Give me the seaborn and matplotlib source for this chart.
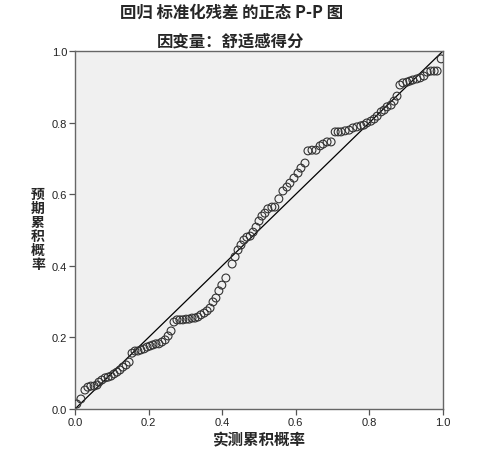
import pandas as pd
import numpy as np
import matplotlib
matplotlib.use("Agg")
import matplotlib.pyplot as plt
import seaborn as sns

# observed cumulative probability (x) vs expected cumulative probability (y)
observed = [0.005, 0.016, 0.027, 0.035, 0.043, 0.052, 0.060, 0.065, 0.073, 0.082,
            0.090, 0.098, 0.106, 0.114, 0.122, 0.130, 0.139, 0.147, 0.155, 0.163,
            0.171, 0.179, 0.188, 0.196, 0.204, 0.212, 0.220, 0.228, 0.236, 0.245,
            0.253, 0.261, 0.269, 0.277, 0.285, 0.293, 0.302, 0.310, 0.318, 0.326,
            0.334, 0.342, 0.351, 0.359, 0.367, 0.375, 0.383, 0.391, 0.399, 0.410,
            0.427, 0.435, 0.443, 0.451, 0.459, 0.467, 0.476, 0.484, 0.492, 0.500,
            0.508, 0.516, 0.524, 0.535, 0.543, 0.554, 0.565, 0.576, 0.584, 0.595,
            0.606, 0.614, 0.625, 0.633, 0.644, 0.655, 0.666, 0.674, 0.685, 0.696,
            0.707, 0.715, 0.723, 0.734, 0.745, 0.755, 0.766, 0.777, 0.785, 0.793,
            0.804, 0.813, 0.821, 0.832, 0.840, 0.848, 0.859, 0.867, 0.875, 0.883,
            0.891, 0.902, 0.910, 0.918, 0.929, 0.938, 0.948, 0.957, 0.967, 0.976,
            0.984, 0.995]
expected = [0.014, 0.028, 0.053, 0.061, 0.064, 0.064, 0.067, 0.075, 0.081, 0.087,
            0.089, 0.092, 0.098, 0.103, 0.109, 0.117, 0.123, 0.131, 0.156, 0.162,
            0.162, 0.165, 0.168, 0.173, 0.176, 0.179, 0.182, 0.182, 0.187, 0.193,
            0.204, 0.218, 0.243, 0.249, 0.249, 0.249, 0.251, 0.251, 0.254, 0.254,
            0.257, 0.263, 0.268, 0.274, 0.282, 0.299, 0.310, 0.330, 0.346, 0.366,
            0.405, 0.425, 0.444, 0.458, 0.472, 0.480, 0.483, 0.494, 0.508, 0.525,
            0.539, 0.547, 0.559, 0.564, 0.564, 0.587, 0.609, 0.620, 0.631, 0.645,
            0.659, 0.673, 0.687, 0.721, 0.723, 0.723, 0.735, 0.740, 0.746, 0.746,
            0.774, 0.774, 0.774, 0.777, 0.779, 0.785, 0.788, 0.791, 0.793, 0.799,
            0.804, 0.810, 0.818, 0.830, 0.835, 0.844, 0.849, 0.860, 0.874, 0.905,
            0.911, 0.913, 0.916, 0.919, 0.922, 0.925, 0.930, 0.941, 0.944, 0.944,
            0.944, 0.978]
diag = [0.0, 1.0]
ticks = [0.0, 0.2, 0.4, 0.6, 0.8, 1.0]

title = "回归 标准化残差 的正态 P-P 图"
subtitle = "因变量：舒适感得分"
xlab = "实测累积概率"
ylab = "预期累积概率"

df = pd.DataFrame({"observed": observed, "expected": expected})

sns.set_style("white")
cjk = ["Noto Sans CJK SC", "DejaVu Sans"]
plt.rcParams["font.family"] = cjk

fig = plt.figure(figsize=(4.96, 4.60), dpi=100)
ax = fig.add_axes([75 / 496, 50 / 460, 368 / 496, 358 / 460])
ax.set_facecolor("#f0f0f0")

ax.plot(diag, diag, color="black", lw=0.9, zorder=2)
sns.scatterplot(data=df, x="observed", y="expected", ax=ax, s=32,
                facecolor="none", edgecolor="#333333", linewidth=0.8, zorder=3)

ax.set_xlim(0, 1)
ax.set_ylim(0, 1)
ax.set_xticks(ticks)
ax.set_yticks(ticks)
ax.set_xticklabels([f"{t:.1f}" for t in ticks], fontfamily="Liberation Sans", fontsize=8)
ax.set_yticklabels([f"{t:.1f}" for t in ticks], fontfamily="Liberation Sans", fontsize=8)
ax.tick_params(axis="both", direction="out", length=4, width=0.9, color="#555555",
               labelcolor="#222222", pad=1.5, bottom=True, left=True, top=False, right=False)
for sp in ax.spines.values():
    sp.set_color("#666666")
    sp.set_linewidth(1.0)
ax.set_xlabel("")
ax.set_ylabel("")

fig.text(232 / 496, 1 - 13 / 460, title, ha="center", va="center",
         fontsize=11.8, fontweight="bold", family=cjk)
fig.text(231 / 496, 1 - 42 / 460, subtitle, ha="center", va="center",
         fontsize=11.8, fontweight="bold", family=cjk)
fig.text(259 / 496, 1 - 440 / 460, xlab, ha="center", va="center",
         fontsize=11.2, fontweight="bold", family=cjk)
fig.text(38 / 496, 1 - 230 / 460, "\n".join(ylab), ha="center", va="center",
         fontsize=10, fontweight="bold", family=cjk, linespacing=1.0)

fig.savefig("out.png", dpi=100, facecolor="white")
